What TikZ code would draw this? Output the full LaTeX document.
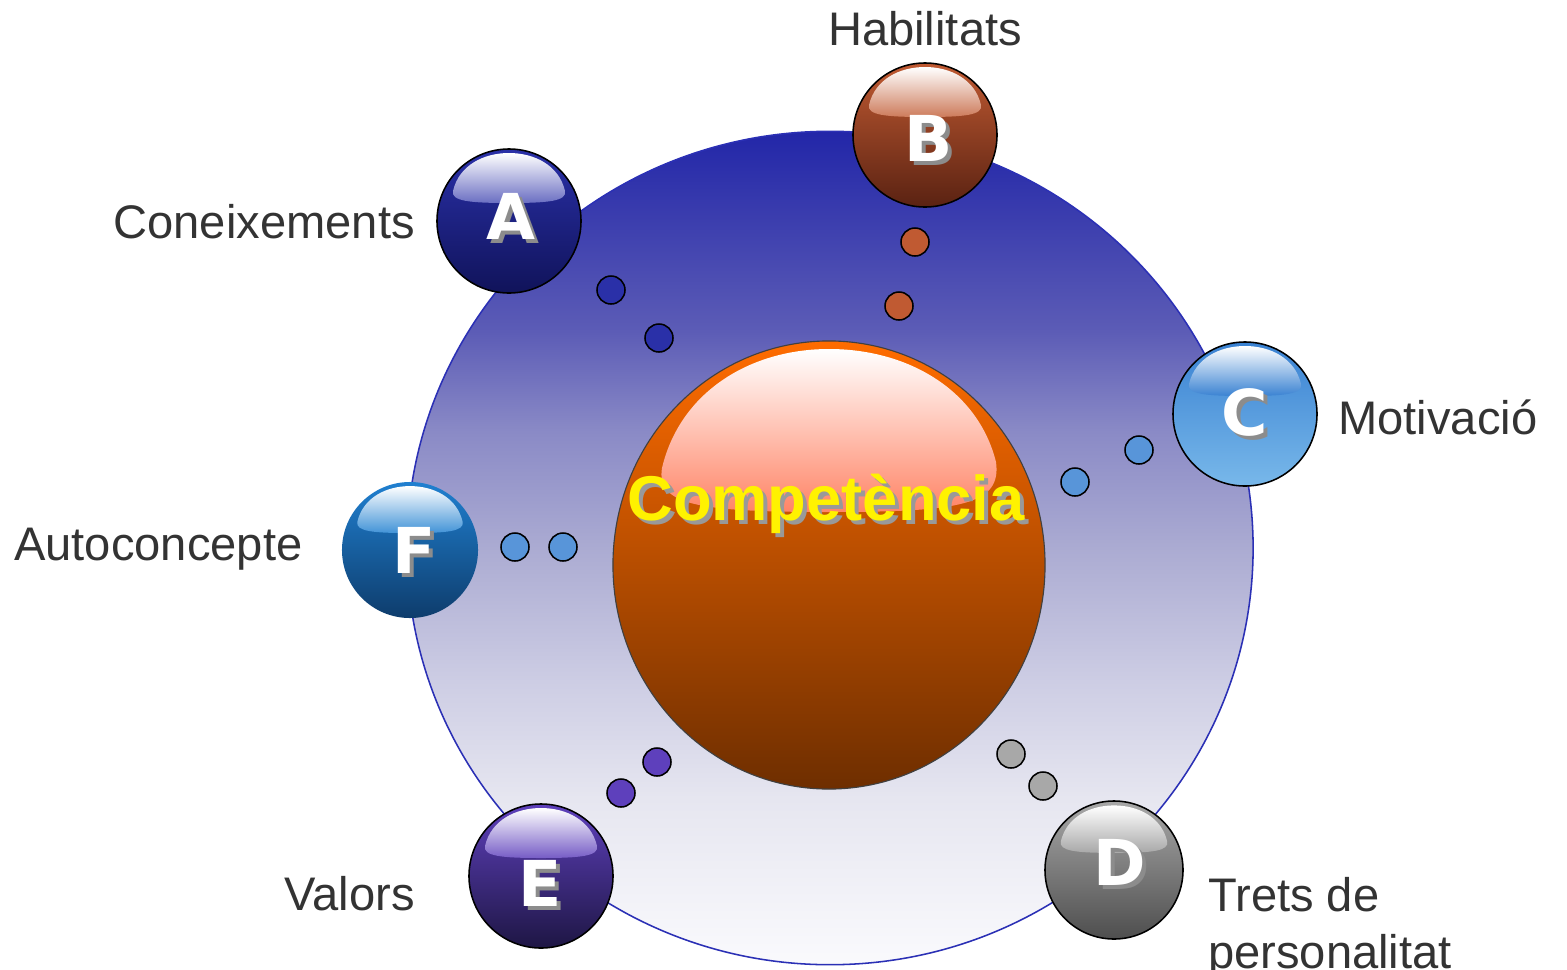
\documentclass[tikz,border=0pt]{standalone}
\usepackage{fontspec}
\setmainfont{Liberation Sans}
\newfontfamily\letterfont{DejaVu Sans}
\usepackage{tikz}
\usetikzlibrary{shapes.geometric}
\definecolor{ringtop}{HTML}{2226A8}
\definecolor{ringa}{HTML}{5C5CB6}
\definecolor{ringb}{HTML}{8A8AC6}
\definecolor{ringmid}{HTML}{ABABD2}
\definecolor{ringc}{HTML}{CDCDE4}
\definecolor{ringd}{HTML}{E6E6F0}
\definecolor{ringbot}{HTML}{FAFAFD}
\definecolor{ringline}{HTML}{2B30B5}
\definecolor{comptop}{HTML}{FF6C00}
\definecolor{compmid}{HTML}{CC5200}
\definecolor{compbot}{HTML}{6E2E00}
\definecolor{comphl}{HTML}{FF8466}
\definecolor{labelgrey}{HTML}{333333}
\definecolor{Atop}{HTML}{2A30A8}
\definecolor{Abot}{HTML}{10135A}
\definecolor{Btop}{HTML}{C05A32}
\definecolor{Bbot}{HTML}{5A2212}
\definecolor{Ctop}{HTML}{3A82D2}
\definecolor{Cbot}{HTML}{78B8EA}
\definecolor{Dtop}{HTML}{A8A8A8}
\definecolor{Dbot}{HTML}{4E4E4E}
\definecolor{Etop}{HTML}{5E40BC}
\definecolor{Ebot}{HTML}{1E1644}
\definecolor{Ftop}{HTML}{2080D0}
\definecolor{Fbot}{HTML}{0E3C6C}
\pgfdeclareverticalshading{ringfade}{100bp}{color(0bp)=(ringbot); color(25bp)=(ringbot); color(35bp)=(ringd); color(42bp)=(ringc); color(50bp)=(ringmid); color(57bp)=(ringb); color(63bp)=(ringa); color(75bp)=(ringtop); color(100bp)=(ringtop)}
\newcommand{\glint}[3]{\shade[shift={(#1.center)},scale=#3,top color=white,bottom color=#2] (-56,-30) .. controls (-50,-56) and (-25,-68) .. (0,-68) .. controls (25,-68) and (50,-56) .. (56,-30) .. controls (58,-20) and (40,-18) .. (0,-18) .. controls (-40,-18) and (-58,-20) .. (-56,-30) -- cycle;}
\begin{document}
\begin{tikzpicture}[x=0.025cm,y=-0.025cm,
  bigball/.style={circle,inner sep=0,minimum size=3.6cm,draw=black,line width=1.1pt},
  bead/.style={circle,inner sep=0,minimum size=0.7cm,draw=black,line width=1.1pt},
  capletter/.style={font=\letterfont\bfseries\fontsize{45}{50}\selectfont,inner sep=0,text=white},
  capshadow/.style={font=\letterfont\bfseries\fontsize{45}{50}\selectfont,inner sep=0,text=black!45},
  topic/.style={font=\fontsize{33.5}{40.5}\selectfont,text=labelgrey,inner sep=0}]
\useasboundingbox (0,0) rectangle (1567,969);
\node[ellipse,inner sep=0,minimum width=21.15cm,minimum height=20.83cm,draw=ringline,line width=1.1pt,shading=ringfade] (ring) at (830,548) {};
\node[ellipse,inner sep=0,minimum width=10.8cm,minimum height=11.2cm,draw=black!75,line width=0.8pt,top color=comptop,middle color=compmid,bottom color=compbot] (comp) at (829,565) {};
\shade[top color=white,bottom color=comphl] (662,468) .. controls (680,392) and (750,349) .. (829,349) .. controls (908,349) and (978,390) .. (996,462) .. controls (1002,505) and (960,512) .. (829,512) .. controls (698,512) and (656,505) .. (662,468) -- cycle;
\node[font=\bfseries\fontsize{45}{50}\selectfont,text=black!40,inner sep=0] (compshadow) at (830,508) {Competència};
\node[font=\bfseries\fontsize{45}{50}\selectfont,text=yellow,inner sep=0] (comptext) at (826,504) {Competència};
\node[bigball,top color=Atop,bottom color=Abot] (A) at (509,221) {};
\glint{A}{Atop!70!white}{1}
\node[capshadow] (Ashadow) at (515,220) {A};
\node[capletter] (Aletter) at (511,216) {A};
\node[bigball,top color=Btop,bottom color=Bbot] (B) at (925,135) {};
\glint{B}{Btop!80!white}{1}
\node[capshadow] (Bshadow) at (933,142) {B};
\node[capletter] (Bletter) at (929,138) {B};
\node[bigball,top color=Ctop,bottom color=Cbot] (C) at (1245,414) {};
\glint{C}{Ctop}{1}
\node[capshadow] (Cshadow) at (1249,416) {C};
\node[capletter] (Cletter) at (1245,412) {C};
\node[bigball,minimum size=3.45cm,top color=Dtop,bottom color=Dbot] (D) at (1114,870) {};
\glint{D}{Dtop}{0.95}
\node[capshadow] (Dshadow) at (1124,866) {D};
\node[capletter] (Dletter) at (1120,862) {D};
\node[bigball,top color=Etop,bottom color=Ebot] (E) at (541,876) {};
\glint{E}{Etop!85!white}{1}
\node[capshadow] (Eshadow) at (544,887) {E};
\node[capletter] (Eletter) at (540,883) {E};
\node[circle,inner sep=0,minimum size=3.4cm,top color=Ftop,bottom color=Fbot] (F) at (410,550) {};
\glint{F}{Ftop!85!white}{0.94}
\node[capshadow] (Fshadow) at (418,554) {F};
\node[capletter] (Fletter) at (414,550) {F};
\node[bead,fill=Atop] (a1) at (611,290) {};
\node[bead,fill=Atop] (a2) at (659,338) {};
\node[bead,fill=Btop] (b1) at (915,242) {};
\node[bead,fill=Btop] (b2) at (899,306) {};
\node[bead,fill=Ctop!85!white] (c1) at (1139,450) {};
\node[bead,fill=Ctop!85!white] (c2) at (1075,482) {};
\node[bead,fill=Dtop] (d1) at (1011,754) {};
\node[bead,fill=Dtop] (d2) at (1043,786) {};
\node[bead,fill=Etop] (e1) at (657,762) {};
\node[bead,fill=Etop] (e2) at (621,793) {};
\node[bead,fill=Ctop!85!white] (f1) at (515,547) {};
\node[bead,fill=Ctop!85!white] (f2) at (563,547) {};
\node[topic,anchor=base] (habilitats) at (925,45) {Habilitats};
\node[topic,anchor=base east] (coneixements) at (415,238) {Coneixements};
\node[topic,anchor=base west] (motivacio) at (1338,434) {Motivació};
\node[topic,anchor=base west] (autoconcepte) at (14,560) {Autoconcepte};
\node[topic,anchor=base east] (valors) at (415,910) {Valors};
\node[topic,anchor=base west,align=left] (trets) at (1208,968) {Trets de\\personalitat};
\end{tikzpicture}
\end{document}
